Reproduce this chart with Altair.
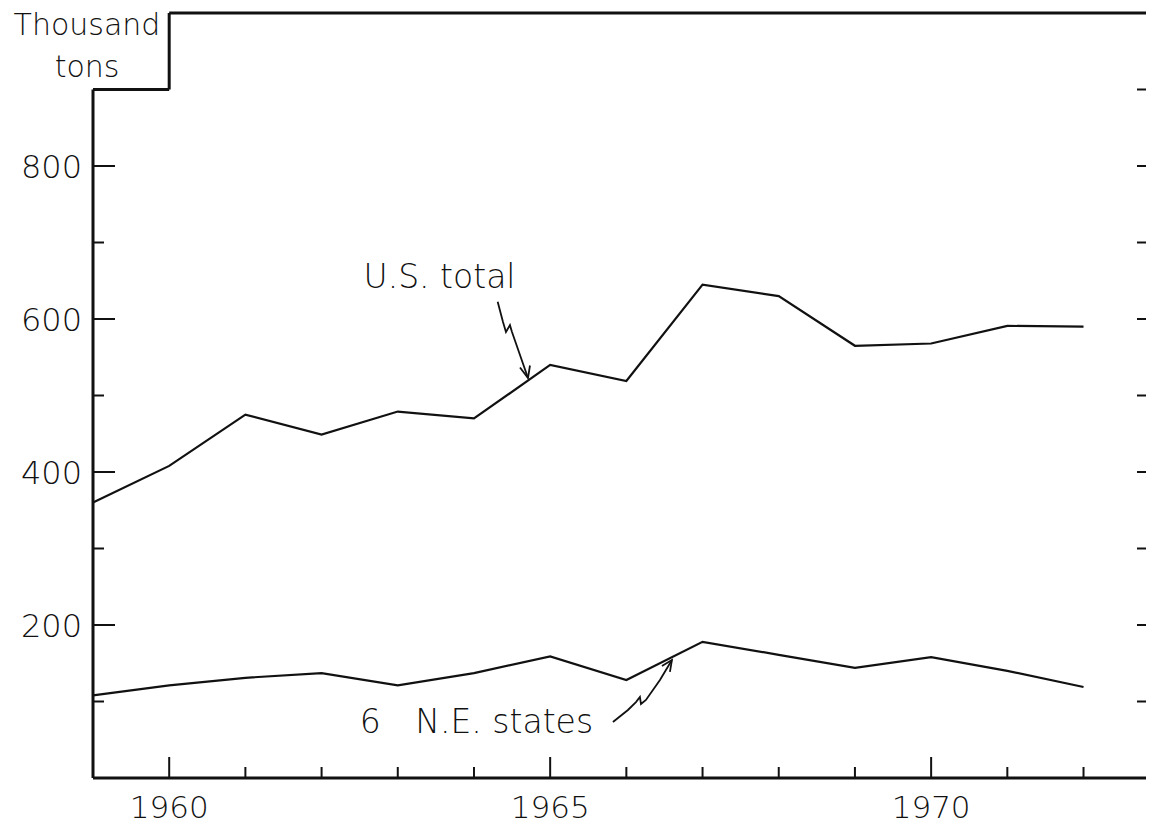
import altair as alt
import pandas as pd

# ---------------- data ----------------
years = [1959, 1960, 1961, 1962, 1963, 1964, 1965, 1966, 1967, 1968, 1969, 1970, 1971, 1972]
us_total = [360, 408, 475, 449, 479, 470, 540, 519, 645, 630, 565, 568, 591, 590]
ne_states = [108, 121, 131, 137, 121, 137, 159, 128, 178, 161, 144, 158, 140, 119]

x_tick_years = [1960, 1961, 1962, 1963, 1964, 1965, 1966, 1967, 1968, 1969, 1970, 1971, 1972]
x_label_years = [1960, 1965, 1970]
y_minor_left = [100, 300, 500, 700]
y_label_values = [200, 400, 600, 800]
y_ticks_right = [100, 200, 300, 400, 500, 600, 700, 800, 900]

X_DOMAIN = [1959, 1972.82]
Y_DOMAIN = [0, 1000]
NOTCH = (1960, 900)  # corner of the notch cut for the unit label

# annotation arrows (in data coordinates: year, thousand tons)
us_arrow_x = [1964.311, 1964.381, 1964.420, 1964.472, 1964.499, 1964.709]
us_arrow_y = [622.6, 596.1, 583.0, 592.0, 583.0, 522.9]
us_head_x = [1964.604, 1964.709, 1964.735]
us_head_y = [536.6, 522.9, 539.2]
ne_arrow_x = [1965.824, 1966.021, 1966.126, 1966.178, 1966.192, 1966.257, 1966.441, 1966.598]
ne_arrow_y = [73.2, 88.9, 99.3, 105.9, 96.7, 102.0, 128.1, 154.2]
ne_head_x = [1966.467, 1966.598, 1966.572]
ne_head_y = [146.4, 154.2, 138.6]

W, H = 1053, 765
FONT = "DejaVu Sans"
FW = 300
INK = "#111111"

xs = alt.Scale(domain=X_DOMAIN, nice=False, zero=False)
ys = alt.Scale(domain=Y_DOMAIN, nice=False, zero=False)

# ---------------- tables ----------------
series = pd.DataFrame(
    {"year": years * 2,
     "value": us_total + ne_states,
     "series": ["U.S. total"] * len(years) + ["6 N.E. states"] * len(years)}
)

frame = pd.DataFrame({
    "x1": [X_DOMAIN[0], X_DOMAIN[0], X_DOMAIN[0], NOTCH[0], NOTCH[0]],
    "x2": [X_DOMAIN[1], X_DOMAIN[0], NOTCH[0], NOTCH[0], X_DOMAIN[1]],
    "y1": [Y_DOMAIN[0], Y_DOMAIN[0], NOTCH[1], NOTCH[1], Y_DOMAIN[1]],
    "y2": [Y_DOMAIN[0], NOTCH[1], NOTCH[1], Y_DOMAIN[1], Y_DOMAIN[1]],
})

xt = pd.DataFrame({"year": x_tick_years})
xt["major"] = xt["year"].isin(x_label_years)
xl = pd.DataFrame({"year": x_label_years, "label": [str(v) for v in x_label_years]})
yl = pd.DataFrame({"value": y_label_values, "label": [str(v) for v in y_label_values]})
ymin = pd.DataFrame({"value": y_minor_left})
yr = pd.DataFrame({"value": y_ticks_right})

arrows = pd.DataFrame({
    "x": us_arrow_x + us_head_x + ne_arrow_x + ne_head_x,
    "y": us_arrow_y + us_head_y + ne_arrow_y + ne_head_y,
    "seg": ["us"] * len(us_arrow_x) + ["ush"] * len(us_head_x)
           + ["ne"] * len(ne_arrow_x) + ["neh"] * len(ne_head_x),
    "idx": list(range(len(us_arrow_x))) + list(range(len(us_head_x)))
           + list(range(len(ne_arrow_x))) + list(range(len(ne_head_x))),
})

annot = pd.DataFrame({
    "x": [1962.55, 1962.5, 1963.23],
    "y": [640, 59, 59],
    "text": ["U.S. total", "6", "N.E. states"],
})

# ---------------- layers ----------------
lines = alt.Chart(series).mark_line(color=INK, strokeWidth=2.2, strokeJoin="miter").encode(
    x=alt.X("year:Q", scale=xs, axis=None),
    y=alt.Y("value:Q", scale=ys, axis=None),
    detail="series:N",
)

frame_l = alt.Chart(frame).mark_rule(color=INK, strokeWidth=3).encode(
    x=alt.X("x1:Q", scale=xs, axis=None), x2="x2:Q",
    y=alt.Y("y1:Q", scale=ys, axis=None), y2="y2:Q",
)

xtick_major = alt.Chart(xt).transform_filter("datum.major").mark_rule(color=INK, strokeWidth=2).encode(
    x=alt.X("year:Q", scale=xs, axis=None), y=alt.value(H), y2=alt.value(H - 21))
xtick_minor = alt.Chart(xt).transform_filter("!datum.major").mark_rule(color=INK, strokeWidth=2).encode(
    x=alt.X("year:Q", scale=xs, axis=None), y=alt.value(H), y2=alt.value(H - 11))

ytick_major = alt.Chart(yl).mark_rule(color=INK, strokeWidth=2).encode(
    y=alt.Y("value:Q", scale=ys, axis=None), x=alt.value(0), x2=alt.value(22))
ytick_minor = alt.Chart(ymin).mark_rule(color=INK, strokeWidth=2).encode(
    y=alt.Y("value:Q", scale=ys, axis=None), x=alt.value(0), x2=alt.value(11))
ytick_right = alt.Chart(yr).mark_rule(color=INK, strokeWidth=2).encode(
    y=alt.Y("value:Q", scale=ys, axis=None), x=alt.value(W - 9), x2=alt.value(W))

xlabels = alt.Chart(xl).mark_text(font=FONT, fontWeight=FW, fontSize=31, color=INK,
                                  align="center", baseline="alphabetic").encode(
    x=alt.X("year:Q", scale=xs, axis=None), y=alt.value(H + 40), text="label:N")

ylabels = alt.Chart(yl).mark_text(font=FONT, fontWeight=FW, fontSize=32, color=INK,
                                  align="right", baseline="alphabetic", dy=12).encode(
    y=alt.Y("value:Q", scale=ys, axis=None), x=alt.value(-11), text="label:N")

unit = alt.Chart(pd.DataFrame({"t": ["Thousand", "tons"], "py": [22, 64]})).mark_text(
    font=FONT, fontWeight=FW, fontSize=30, color=INK, align="center", baseline="alphabetic").encode(
    x=alt.value(-6), y=alt.Y("py:Q", scale=None), text="t:N")

annot_t = alt.Chart(annot).mark_text(font=FONT, fontWeight=FW, fontSize=33, color=INK,
                                     align="left", baseline="alphabetic").encode(
    x=alt.X("x:Q", scale=xs, axis=None), y=alt.Y("y:Q", scale=ys, axis=None), text="text:N")

arrow_l = alt.Chart(arrows).mark_line(color=INK, strokeWidth=1.8).encode(
    x=alt.X("x:Q", scale=xs, axis=None), y=alt.Y("y:Q", scale=ys, axis=None),
    detail="seg:N", order="idx:Q")

chart = alt.layer(
    frame_l, xtick_major, xtick_minor, ytick_major, ytick_minor, ytick_right,
    lines, arrow_l, xlabels, ylabels, unit, annot_t,
).properties(
    width=W, height=H,
    autosize=alt.AutoSizeParams(type="none"),
    padding={"left": 85, "top": 5, "right": 0, "bottom": 48},
    background="white",
).configure_view(stroke=None)

chart.save("out.html", embed_options={"renderer": "svg", "actions": False})
